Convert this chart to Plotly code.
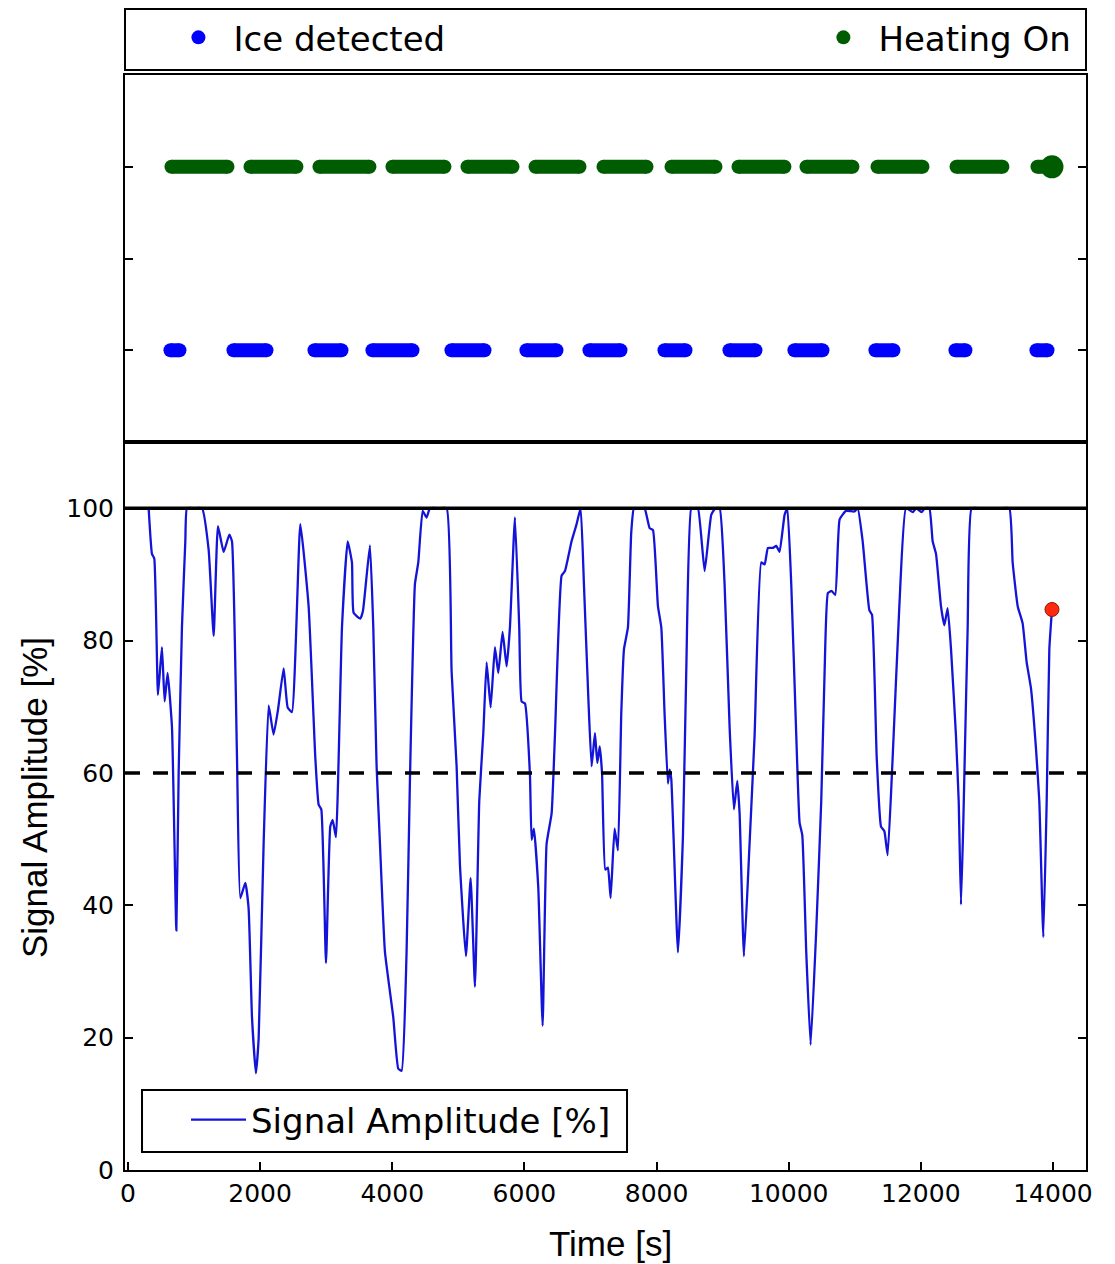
import plotly.graph_objects as go

# ---------------- data ----------------
signal_time = [313, 363, 398, 454, 514, 555, 600, 666, 732, 767, 817, 868, 893, 1000, 1120, 1221, 1297, 1362, 1448,
               1534, 1574, 1650, 1700, 1776, 1826, 1877, 1937, 1978, 2053, 2129, 2204, 2270, 2356, 2417, 2482,
               2608, 2734, 2835, 2886, 2926, 2997, 3062, 3098, 3148, 3239, 3325, 3390, 3415, 3516, 3557, 3662,
               3713, 3763, 3814, 3889, 4015, 4091, 4142, 4217, 4268, 4343, 4394, 4460, 4520, 4570, 4700, 4823, 4898,
               4974, 5025, 5115, 5186, 5252, 5317, 5378, 5428, 5489, 5554, 5605, 5670, 5731, 5781, 5857, 5922,
               5958, 6008, 6084, 6109, 6144, 6210, 6276, 6336, 6412, 6462, 6563, 6614, 6714, 6790, 6851, 6901,
               6967, 7017, 7068, 7103, 7140, 7175, 7224, 7264, 7305, 7365, 7416, 7466, 7507, 7567, 7617, 7658,
               7740, 7819, 7895, 7946, 8021, 8072, 8122, 8172, 8198, 8223, 8324, 8400, 8450, 8526, 8580, 8627, 8728,
               8828, 8890, 8955, 9030, 9106, 9171, 9222, 9257, 9323, 9408, 9484, 9585, 9636, 9686, 9762, 9812, 9862,
               9938, 9979, 10039, 10115, 10165, 10206, 10266, 10332, 10417, 10493, 10544, 10594, 10650, 10705, 10771,
               10867, 10993, 11044, 11120, 11221, 11261, 11332, 11397, 11448, 11498, 11574, 11675, 11775, 11880,
               11930, 12010, 12060, 12129, 12179, 12230, 12305, 12356, 12406, 12457, 12532, 12573, 12608, 12643,
               12709, 12769, 12900, 13050, 13200, 13339, 13390, 13466, 13541, 13602, 13667, 13743, 13793, 13854,
               13905, 13945, 13985]
signal_value = [100, 93.1, 92.4, 71.8, 79, 70.8, 75.1, 66.9, 36.2, 60, 82, 95, 100, 100, 100, 93.7, 80.7, 97.3, 93.4,
                96, 95, 62.4, 41.1, 43.4, 39.5, 23.1, 14.6, 19.9, 49.3, 70.2, 65.8, 69.5, 75.8, 69.9, 69.2,
                97.6, 85.2, 62.4, 55.2, 54.5, 31.3, 51.9, 52.9, 50.3, 82, 95, 91.8, 84.2, 83.3, 84.5, 94.4,
                82, 61, 49.3, 33, 23.1, 15.3, 15, 33, 59.1, 88.5, 91.8, 99.6, 98.6, 100, 100, 100, 75.4,
                61, 46, 32.3, 44.1, 27.7, 55.8, 66, 76.7, 69.9, 79, 75.1, 81.3, 76.1, 82, 98.6, 82,
                70.8, 70.5, 59.7, 49.9, 51.6, 42.7, 21.8, 49.3, 53.9, 65.6, 89.8, 90.5, 95, 97.6, 100, 88.5,
                71.5, 61, 66, 61.5, 64, 60, 45.4, 45.7, 41.1, 51.6, 48.3, 68.9, 78.7, 82, 96.3, 100,
                100, 100, 97, 96.7, 85.2, 82, 68.9, 58.4, 60.5, 59.1, 32.9, 50.6, 75.4, 100, 100, 100, 90.5,
                99, 100, 100, 88.5, 66.9, 54.5, 58.8, 53.9, 32.3, 49.3, 65.6, 91.8, 91.5, 94, 94, 94.3, 93.4,
                99, 100, 88.5, 65.6, 52.5, 50.6, 32.9, 18.9, 36.2, 55.8, 75.4, 87.2, 87.5, 86.9, 98.3,
                99.6, 99.5, 100, 95, 84.6, 83.9, 62.4, 51.9, 51.2, 47.6, 62.4, 85.2, 100, 99.4,
                100, 99.4, 100, 100, 95, 93.1, 85.2, 82.3, 84.9, 78.7, 65.6, 55.8, 40.1, 52.5,
                82, 100, 100, 100, 100, 100, 91.8, 85.2, 82.6, 76.7, 72.8, 63.7, 55.8, 35.2,
                55.8, 78.7, 84.7]

ice_start = [643, 1597, 2823, 3700, 4896, 6031, 6985, 8120, 9104, 10087, 11313, 12524, 13750]
ice_end = [779, 2096, 3231, 4306, 5396, 6485, 7454, 8438, 9497, 10511, 11585, 12675, 13917]
heat_start = [658, 1854, 2898, 4003, 5138, 6168, 7197, 8226, 9240, 10269, 11344, 12540, 13765]
heat_end = [1506, 2550, 3655, 4790, 5820, 6834, 7848, 8892, 9936, 10965, 12025, 13235, 13985]

ICE_LEVEL = 0
HEAT_LEVEL = 1
upper_limit = 100
threshold = 60

x_ticks = [0, 2000, 4000, 6000, 8000, 10000, 12000, 14000]
x_tick_labels = ["0", "2000", "4000", "6000", "8000", "10000", "12000", "14000"]
y_ticks = [0, 20, 40, 60, 80, 100]

# ---------------- styles ----------------
BLUE = "#0000ff"
GREEN = "#005c00"
SIG = "#1414d8"
TICKFONT = dict(family="DejaVu Sans", size=25, color="black")
LEGFONT = dict(family="DejaVu Sans", size=34, color="black")
TITLEFONT = dict(family="Liberation Sans", size=35, color="black")
SEG_W = 14


def seg_xy(starts, ends, level):
    xs, ys = [], []
    for s, e in zip(starts, ends):
        xs += [s, e, None]
        ys += [level, level, None]
    return xs, ys


fig = go.Figure()

# ---- top panel: state segments ----
ix, iy = seg_xy(ice_start, ice_end, ICE_LEVEL)
hx, hy = seg_xy(heat_start, heat_end, HEAT_LEVEL)

fig.add_trace(go.Scatter(x=ix, y=iy, mode="lines", line=dict(color=BLUE, width=SEG_W),
                         xaxis="x2", yaxis="y2", showlegend=False, hoverinfo="skip"))
fig.add_trace(go.Scatter(x=ice_start + ice_end, y=[ICE_LEVEL] * (len(ice_start) + len(ice_end)),
                         mode="markers", marker=dict(color=BLUE, size=SEG_W, line=dict(width=0)),
                         xaxis="x2", yaxis="y2", name="Ice detected", legend="legend"))
fig.add_trace(go.Scatter(x=hx, y=hy, mode="lines", line=dict(color=GREEN, width=SEG_W),
                         xaxis="x2", yaxis="y2", showlegend=False, hoverinfo="skip"))
fig.add_trace(go.Scatter(x=heat_start + heat_end, y=[HEAT_LEVEL] * (len(heat_start) + len(heat_end)),
                         mode="markers", marker=dict(color=GREEN, size=SEG_W, line=dict(width=0)),
                         xaxis="x2", yaxis="y2", name="Heating On", legend="legend2"))
# current heating point (bigger dot)
fig.add_trace(go.Scatter(x=[heat_end[-1]], y=[HEAT_LEVEL], mode="markers",
                         marker=dict(color=GREEN, size=23, line=dict(width=0)),
                         xaxis="x2", yaxis="y2", showlegend=False))

# ---- bottom panel: signal ----
fig.add_trace(go.Scatter(x=signal_time, y=signal_value, mode="lines",
                         line=dict(color=SIG, width=2.3, shape="spline", smoothing=0.4),
                         name="Signal Amplitude [%]", xaxis="x", yaxis="y", legend="legend3"))
fig.add_trace(go.Scatter(x=[signal_time[-1]], y=[signal_value[-1]], mode="markers",
                         marker=dict(color="#ff2a10", size=14, line=dict(color="#8a1a00", width=1)),
                         xaxis="x", yaxis="y", showlegend=False))

split = 0.6648
axis_common = dict(showline=True, linecolor="black", linewidth=2, showgrid=False, zeroline=False,
                   automargin=False)

# page body has an 8px margin, so the figure is 8px smaller and margins shifted accordingly
fig.update_layout(
    width=1107, height=1256,
    margin=dict(l=117, r=29, t=67, b=94, autoexpand=False),
    plot_bgcolor="white", paper_bgcolor="white",
    xaxis=dict(domain=[0, 1], anchor="y", range=[-45, 14500], tickvals=x_ticks, ticktext=x_tick_labels,
               ticks="inside", ticklen=8, tickwidth=1.5, tickcolor="black", mirror=True,
               tickfont=TICKFONT, ticklabelstandoff=0, **axis_common),
    yaxis=dict(domain=[0, split], anchor="x", range=[0, 110], tickvals=y_ticks,
               ticks="inside", ticklen=8, tickwidth=1.5, tickcolor="black", mirror="ticks",
               tickfont=TICKFONT, ticklabelstandoff=4, **axis_common),
    xaxis2=dict(domain=[0, 1], anchor="y2", matches="x", showticklabels=False, ticks="",
                mirror=True, **axis_common),
    yaxis2=dict(domain=[split, 1], anchor="x2", range=[-0.5, 1.5], tickvals=[0, 0.5, 1],
                showticklabels=False, ticks="inside", ticklen=8, tickwidth=1.5, tickcolor="black",
                mirror="ticks", **axis_common),
    legend=dict(x=0.040, y=1.034, xanchor="left", yanchor="middle", font=LEGFONT,
                bgcolor="rgba(0,0,0,0)", borderwidth=0, itemwidth=60),
    legend2=dict(x=0.990, y=1.034, xanchor="right", yanchor="middle", font=LEGFONT,
                 bgcolor="rgba(0,0,0,0)", borderwidth=0, itemwidth=60),
    legend3=dict(x=0.0635, y=0.0457, xanchor="left", yanchor="middle", font=LEGFONT,
                 bgcolor="rgba(0,0,0,0)", borderwidth=0, itemwidth=55),
    annotations=[
        dict(text="Signal Amplitude [%]", xref="paper", yref="paper", x=-0.0947, y=0.3406,
             xanchor="center", yanchor="middle", textangle=-90, showarrow=False, font=TITLEFONT),
        dict(text="Time [s]", xref="paper", yref="paper", x=0.5047, y=-0.0667,
             xanchor="center", yanchor="middle", showarrow=False, font=TITLEFONT),
    ],
    shapes=[
        dict(type="line", xref="x domain", yref="y", x0=0, x1=1, y0=upper_limit, y1=upper_limit,
             line=dict(color="black", width=3.5)),
        dict(type="line", xref="x domain", yref="y", x0=0, x1=1, y0=threshold, y1=threshold,
             line=dict(color="black", width=3.5, dash="15px,13px")),
        # legend frames
        dict(type="rect", xref="paper", yref="paper", x0=0, x1=1, y0=1.0046, y1=1.0603,
             line=dict(color="black", width=2)),
        dict(type="rect", xref="paper", yref="paper", x0=0.0177, x1=0.5224, y0=0.0164, y1=0.0731,
             line=dict(color="black", width=2), fillcolor="white", layer="above"),
    ],
)

fig.write_html("out.html")
